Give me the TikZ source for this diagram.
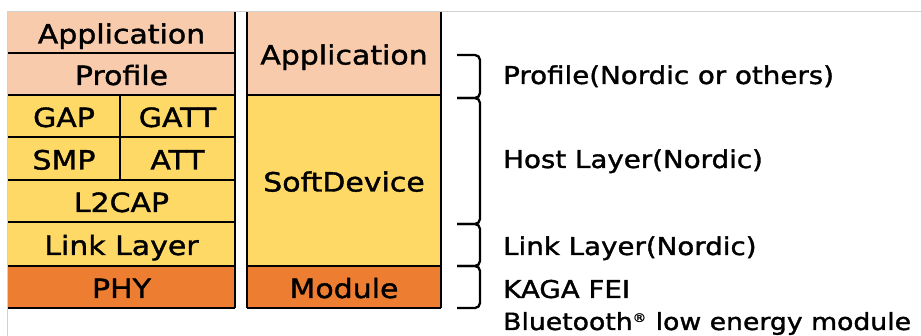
\documentclass[tikz,border=0pt]{standalone}
\usepackage{fontspec}
\setmainfont[FakeStretch=1.13,FakeBold=1.4]{DejaVu Sans}
\definecolor{peach}{HTML}{F8CBAD}
\definecolor{gold}{HTML}{FFD966}
\definecolor{orng}{HTML}{ED7D31}
\begin{document}
\begin{tikzpicture}[x=1pt,y=-1pt,
  cell/.style={anchor=north west, inner sep=0pt, outer sep=0pt,
    font=\fontsize{26.5pt}{30pt}\selectfont, text height=22pt, text depth=0pt},
  bl/.style={line width=2.3pt, black},
  brk/.style={line width=2.3pt, black, rounded corners=5pt},
  lbl/.style={anchor=base west, inner sep=0pt, font=\fontsize{24.5pt}{28pt}\selectfont},
  frame/.style={line width=0.8pt, black!18}]
\useasboundingbox (0,0) rectangle (921,336);
\fill[white] (0,0) rectangle (921,336);
\draw[frame] (7,11) -- (921,11);
\draw[frame] (7,11) -- (7,336);
% left stack
\node[cell, fill=peach, minimum width=227pt, minimum height=41pt] (lapp) at (8,12) {Application};
\node[cell, fill=peach, minimum width=227pt, minimum height=42pt] (lprof) at (8,53) {Profile};
\node[cell, fill=gold, minimum width=112pt, minimum height=42pt] (lgap) at (8,95) {GAP};
\node[cell, fill=gold, minimum width=115pt, minimum height=42pt] (lgatt) at (120,95) {GATT};
\node[cell, fill=gold, minimum width=112pt, minimum height=43pt] (lsmp) at (8,137) {SMP};
\node[cell, fill=gold, minimum width=115pt, minimum height=43pt] (latt) at (120,137) {ATT};
\node[cell, fill=gold, minimum width=227pt, minimum height=42pt] (ll2) at (8,180) {L2CAP};
\node[cell, fill=gold, minimum width=227pt, minimum height=44pt] (llink) at (8,222) {Link Layer};
\node[cell, fill=orng, minimum width=227pt, minimum height=42pt] (lphy) at (8,266) {PHY};
% right stack
\node[cell, fill=peach, minimum width=194pt, minimum height=83pt] (rapp) at (247,12) {Application};
\node[cell, fill=gold, minimum width=194pt, minimum height=171pt] (rsd) at (247,95) {SoftDevice};
\node[cell, fill=orng, minimum width=194pt, minimum height=42pt] (rmod) at (247,266) {Module};
% left lines
\foreach \n in {lapp,lprof,lgatt,latt,ll2,llink,lphy}
  \draw[bl] (\n.south west -| lapp.west) -- (\n.south east);
\draw[bl] (lapp.north east) -- (lphy.south east);
\draw[bl] (lgap.north east) -- (lsmp.south east);
% right lines
\draw[bl] (rapp.north west) -- (rmod.south west);
\draw[bl] (rapp.north east) -- (rmod.south east);
\foreach \n in {rapp,rsd,rmod}
  \draw[bl] (\n.south west) -- (\n.south east);
% brackets
\foreach \i/\y in {0/55,1/98,2/224,3/266,4/308} {
  \coordinate (b\i) at (480,\y);
  \coordinate (s\i) at (457,\y);
}
\draw[brk] (s0) -- (b0) -- (b1) -- (s1);
\draw[brk] (s1) -- (b1) -- (b2) -- (s2);
\draw[brk] (s2) -- (b2) -- (b3) -- (s3);
\draw[brk] (s3) -- (b3) -- (b4) -- (s4);
% labels
\node[lbl] (t1) at (503,84) {Profile(Nordic or others)};
\node[lbl] (t2) at (503,168) {Host Layer(Nordic)};
\node[lbl] (t3) at (503,255) {Link Layer(Nordic)};
\node[lbl] (t4) at (503,298) {KAGA FEI};
\node[lbl, font=\fontsize{23.6pt}{28pt}\selectfont] (t5) at (503,330) {Bluetooth\raisebox{8pt}{\fontsize{12pt}{12pt}\selectfont ®}\hspace{1pt} low energy module};
\end{tikzpicture}
\end{document}
